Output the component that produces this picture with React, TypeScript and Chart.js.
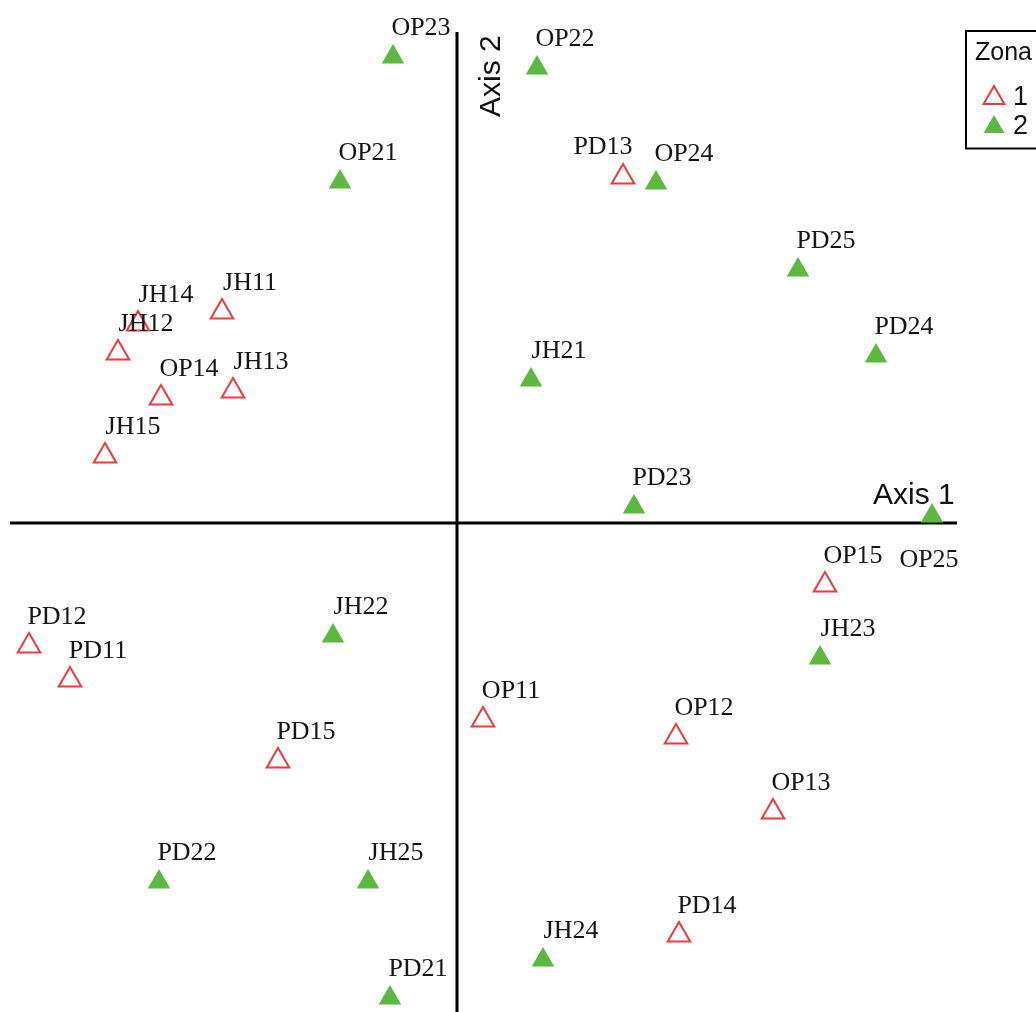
import React, { useEffect, useRef } from "react";
import { Chart, registerables } from "chart.js";

Chart.register(...registerables);

// Site scores on the first two ordination axes, one set of arrays per zone
const zone1Sites = ["PD13", "JH11", "JH14", "JH12", "OP14", "JH13", "JH15", "OP15", "PD12", "PD11", "OP11", "PD15", "OP12", "OP13", "PD14"];
const zone1Axis1 = [1.66, -2.35, -3.19, -3.39, -2.96, -2.24, -3.52, 3.68, -4.28, -3.87, 0.26, -1.79, 2.19, 3.16, 2.22];
const zone1Axis2 = [3.46, 2.11, 1.99, 1.70, 1.25, 1.32, 0.67, -0.62, -1.23, -1.57, -1.97, -2.38, -2.14, -2.89, -4.12];

const zone2Sites = ["OP23", "OP22", "OP21", "OP24", "PD25", "PD24", "JH21", "PD23", "OP25", "JH22", "JH23", "PD22", "JH25", "JH24", "PD21"];
const zone2Axis1 = [-0.64, 0.80, -1.17, 1.99, 3.41, 4.19, 0.74, 1.77, 4.75, -1.24, 3.63, -2.98, -0.89, 0.86, -0.67];
const zone2Axis2 = [4.66, 4.55, 3.41, 3.40, 2.53, 1.67, 1.43, 0.16, 0.07, -1.13, -1.35, -3.59, -3.59, -4.37, -4.75];

const zoneNames = ["1", "2"];
const axisTitles = ["Axis 1", "Axis 2"];
const legendTitle = "Zona";

// Plot extent in axis units
const axis1Range = [-4.47, 5.0];
const axis2Range = [-4.89, 4.93];

const RED = "#ee3a3f";
const GREEN = "#5cb940";
const SERIF = '"Liberation Serif", "Times New Roman", serif';
const SANS = '"Liberation Sans", Arial, sans-serif';

// Label offsets (px) from the marker; a couple of sites sit differently to avoid overlaps
const defaultLabelOffset = [28, -22];
const labelOffsets: Record<string, number[]> = {
  PD13: [-20, -23],
  OP25: [-3, 51],
};

const toPoints = (sites: string[], xs: number[], ys: number[]) =>
  sites.map((site, i) => ({ x: xs[i], y: ys[i], site }));

function triangle(ctx: CanvasRenderingContext2D, x: number, y: number, r: number) {
  const s = Math.sin((2 * Math.PI) / 3) * r;
  ctx.beginPath();
  ctx.moveTo(x, y - r);
  ctx.lineTo(x + s, y + r / 2);
  ctx.lineTo(x - s, y + r / 2);
  ctx.closePath();
}

const ordinationPlugin = {
  id: "ordinationDecor",
  beforeDatasetsDraw(chart: any) {
    const { ctx, chartArea, scales } = chart;
    const x0 = scales.x.getPixelForValue(0);
    const y0 = scales.y.getPixelForValue(0);
    ctx.save();
    ctx.strokeStyle = "#000";
    ctx.lineWidth = 3;
    ctx.beginPath();
    ctx.moveTo(chartArea.left, y0);
    ctx.lineTo(chartArea.right, y0);
    ctx.moveTo(x0, chartArea.top + 2);
    ctx.lineTo(x0, chartArea.bottom);
    ctx.stroke();

    // axis titles
    ctx.fillStyle = "#111";
    ctx.font = `30px ${SANS}`;
    ctx.textAlign = "left";
    ctx.textBaseline = "alphabetic";
    ctx.fillText(axisTitles[0], chartArea.right - 84, y0 - 19);
    ctx.translate(x0 + 43, chartArea.top + 87);
    ctx.rotate(-Math.PI / 2);
    ctx.fillText(axisTitles[1], 0, 0);
    ctx.restore();
  },
  afterDatasetsDraw(chart: any) {
    const { ctx } = chart;
    ctx.save();
    ctx.fillStyle = "#151515";
    ctx.font = `26px ${SERIF}`;
    ctx.textAlign = "center";
    ctx.textBaseline = "alphabetic";
    chart.data.datasets.forEach((ds: any, i: number) => {
      const meta = chart.getDatasetMeta(i);
      meta.data.forEach((el: any, j: number) => {
        const site = ds.data[j].site;
        const [dx, dy] = labelOffsets[site] || defaultLabelOffset;
        ctx.fillText(site, el.x + dx, el.y + dy);
      });
    });
    ctx.restore();
  },
  afterDraw(chart: any) {
    const { ctx } = chart;
    ctx.save();
    ctx.strokeStyle = "#000";
    ctx.lineWidth = 2;
    ctx.strokeRect(966, 31, 200, 117.5);
    ctx.fillStyle = "#111";
    ctx.font = `25px ${SANS}`;
    ctx.textAlign = "left";
    ctx.textBaseline = "alphabetic";
    ctx.fillText(legendTitle, 975, 60);
    ctx.font = `27px ${SANS}`;
    chart.data.datasets.forEach((ds: any, i: number) => {
      const cy = 98 + i * 29;
      triangle(ctx, 994, cy, 12);
      if (ds.pointBorderWidth > 0 && ds.pointBackgroundColor === "rgba(0,0,0,0)") {
        ctx.strokeStyle = ds.pointBorderColor;
        ctx.lineWidth = ds.pointBorderWidth;
        ctx.stroke();
      } else {
        ctx.fillStyle = ds.pointBackgroundColor;
        ctx.fill();
      }
      ctx.fillStyle = "#111";
      ctx.fillText(ds.label, 1013, cy + 7);
    });
    ctx.restore();
  },
};

export default function App() {
  const ref = useRef<HTMLCanvasElement>(null);

  useEffect(() => {
    const prevMargin = document.body.style.margin;
    document.body.style.margin = "0";
    const chart = new Chart(ref.current!, {
      type: "scatter",
      data: {
        datasets: [
          {
            label: zoneNames[0],
            data: toPoints(zone1Sites, zone1Axis1, zone1Axis2),
            pointStyle: "triangle",
            pointRadius: 13,
            pointBorderWidth: 2,
            pointBorderColor: RED,
            pointBackgroundColor: "rgba(0,0,0,0)",
            clip: false,
          },
          {
            label: zoneNames[1],
            data: toPoints(zone2Sites, zone2Axis1, zone2Axis2),
            pointStyle: "triangle",
            pointRadius: 13,
            pointBorderWidth: 0,
            pointBorderColor: GREEN,
            pointBackgroundColor: GREEN,
            clip: false,
          },
        ] as any,
      },
      options: {
        animation: false,
        responsive: false,
        events: [],
        layout: { autoPadding: false, padding: { left: 10, right: 79, top: 30, bottom: 0 } },
        scales: {
          x: { type: "linear", min: axis1Range[0], max: axis1Range[1], display: false },
          y: { type: "linear", min: axis2Range[0], max: axis2Range[1], display: false },
        },
        plugins: { legend: { display: false }, tooltip: { enabled: false } },
      } as any,
      plugins: [ordinationPlugin],
    });
    return () => {
      chart.destroy();
      document.body.style.margin = prevMargin;
    };
  }, []);

  return (
    <div style={{ width: 1036, height: 1012, background: "#fff" }}>
      <canvas ref={ref} width={1036} height={1012} style={{ display: "block" }} />
    </div>
  );
}
